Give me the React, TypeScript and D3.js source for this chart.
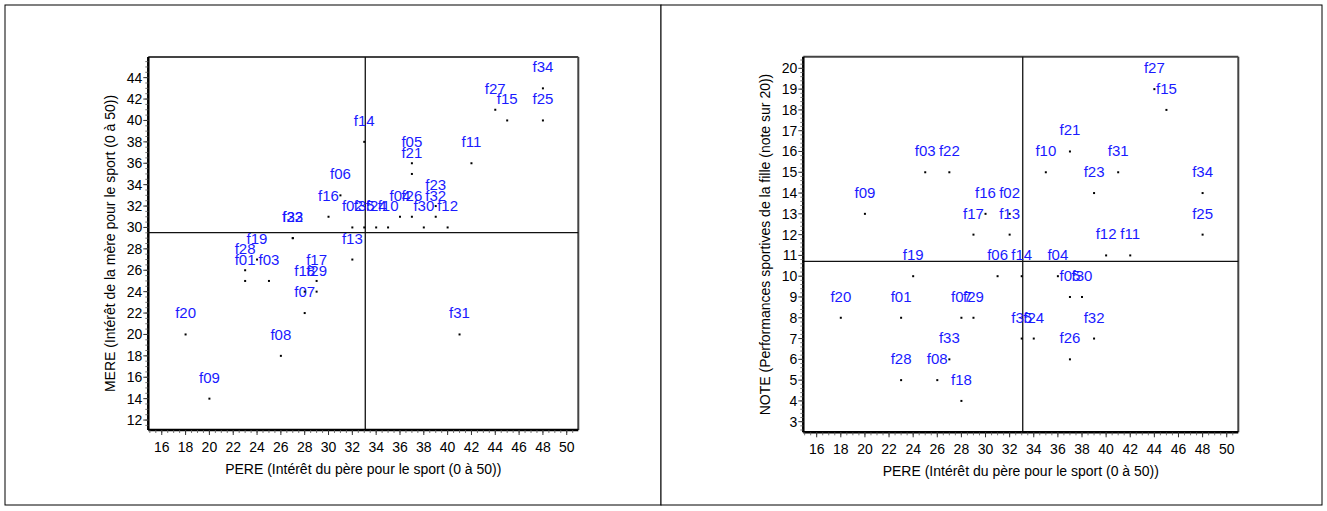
import React from "react";
import * as d3 from "d3";

const ids = ["f01","f02","f03","f04","f05","f06","f07","f08","f09","f10","f11","f12","f13","f14","f15","f16","f17","f18","f19","f20","f21","f22","f23","f24","f25","f26","f27","f28","f29","f30","f31","f32","f33","f34","f35"];
const pere = [23,32,25,36,37,31,28,26,20,35,42,40,32,33,45,30,29,28,24,18,37,27,39,34,48,37,44,23,29,38,41,39,27,48,33];
const mere = [25,30,25,31,36,33,22,18,14,30,36,30,27,38,40,31,25,24,27,20,35,29,32,30,40,31,41,26,24,30,20,31,29,43,30];
const note = [8,13,15,10,9,10,8,5,13,15,11,11,12,10,18,13,12,4,10,8,16,15,14,7,12,6,19,5,8,9,15,7,6,14,7];

const xTicks = d3.range(16, 51, 2);
const mereTicks = d3.range(12, 45, 2);
const noteTicks = d3.range(3, 21, 1);

const xTitle = "PERE (Intérêt du père pour le sport (0 à 50))";
const mereTitle = "MERE (Intérêt de la mère pour le sport (0 à 50))";
const noteTitle = "NOTE (Performances sportives de la fille (note sur 20))";

const FONT = "'Liberation Sans', Arial, sans-serif";

type PanelProps = {
  px0: number; px1: number;
  left: number; right: number; top: number; bottom: number;
  xDomain: [number, number]; yDomain: [number, number];
  yVals: number[]; yTicks: number[]; yMinorStep: number; yTitle: string;
};

function Panel(p: PanelProps) {
  const x = d3.scaleLinear().domain(p.xDomain).range([p.left, p.right]);
  const y = d3.scaleLinear().domain(p.yDomain).range([p.bottom, p.top]);
  const mx = d3.mean(pere) as number;
  const my = d3.mean(p.yVals) as number;
  const xMinor = d3.range(Math.ceil(p.xDomain[0] * 2) / 2, p.xDomain[1], 0.5);
  const yMinor = d3.range(Math.ceil(p.yDomain[0] / p.yMinorStep) * p.yMinorStep, p.yDomain[1], p.yMinorStep);
  const cx = (p.left + p.right) / 2;
  const cy = (p.top + p.bottom) / 2;
  return (
    <g>
      <rect x={p.px0} y={5} width={p.px1 - p.px0} height={500} fill="white" stroke="#000" strokeWidth={1} />
      <line x1={p.left} x2={p.right} y1={p.top} y2={p.top} stroke="#444" strokeWidth={2} />
      <line x1={p.right} x2={p.right} y1={p.top} y2={p.bottom} stroke="#444" strokeWidth={2} />
      <line x1={x(mx)} x2={x(mx)} y1={p.top} y2={p.bottom} stroke="#111" strokeWidth={1.3} />
      <line x1={p.left} x2={p.right} y1={y(my)} y2={y(my)} stroke="#111" strokeWidth={1.3} />
      <line x1={p.left} x2={p.left} y1={p.top} y2={p.bottom} stroke="#000" strokeWidth={2.5} />
      <line x1={p.left} x2={p.right} y1={p.bottom} y2={p.bottom} stroke="#000" strokeWidth={2.5} />
      {xMinor.map((v, i) => (
        <line key={"xm" + i} x1={x(v)} x2={x(v)} y1={p.bottom} y2={p.bottom + 3} stroke="#555" strokeWidth={0.8} />
      ))}
      {xTicks.map((v) => (
        <g key={"xt" + v}>
          <line x1={x(v)} x2={x(v)} y1={p.bottom} y2={p.bottom + 5} stroke="#333" strokeWidth={1} />
          <text x={x(v)} y={p.bottom + 22} textAnchor="middle" fontSize={14} fontFamily={FONT} fill="#000">{v}</text>
        </g>
      ))}
      {yMinor.map((v, i) => (
        <line key={"ym" + i} x1={p.left - 3} x2={p.left} y1={y(v)} y2={y(v)} stroke="#555" strokeWidth={0.8} />
      ))}
      {p.yTicks.map((v) => (
        <g key={"yt" + v}>
          <line x1={p.left - 5} x2={p.left} y1={y(v)} y2={y(v)} stroke="#333" strokeWidth={1} />
          <text x={p.left - 6} y={y(v) + 5} textAnchor="end" fontSize={14} fontFamily={FONT} fill="#000">{v}</text>
        </g>
      ))}
      <text x={cx} y={p.bottom + 44} textAnchor="middle" fontSize={14} fontFamily={FONT} fill="#000">{xTitle}</text>
      <text transform={`translate(${p.left - 33},${cy}) rotate(-90)`} textAnchor="middle" fontSize={14} fontFamily={FONT} fill="#000">{p.yTitle}</text>
      {ids.map((id, i) => (
        <g key={id}>
          <rect x={x(pere[i]) - 1} y={y(p.yVals[i]) - 1} width={2} height={2} fill="#000" />
          <text x={x(pere[i])} y={y(p.yVals[i]) - 16} textAnchor="middle" fontSize={15} fontFamily={FONT} fill="#1a1aff">{id}</text>
        </g>
      ))}
    </g>
  );
}

export default function App() {
  return (
    <svg width={1327} height={511} style={{ position: "absolute", left: 0, top: 0, background: "white" }}>
      <rect x={0} y={0} width={1327} height={511} fill="white" />
      <Panel px0={5} px1={661} left={148.3} right={578.3} top={57} bottom={430}
        xDomain={[14.87, 50.97]} yDomain={[11.07, 45.93]} yVals={mere} yTicks={mereTicks} yMinorStep={0.5} yTitle={mereTitle} />
      <Panel px0={661} px1={1322} left={803.3} right={1238.3} top={56.7} bottom={432.3}
        xDomain={[14.89, 50.96]} yDomain={[2.49, 20.56]} yVals={note} yTicks={noteTicks} yMinorStep={0.2} yTitle={noteTitle} />
    </svg>
  );
}
